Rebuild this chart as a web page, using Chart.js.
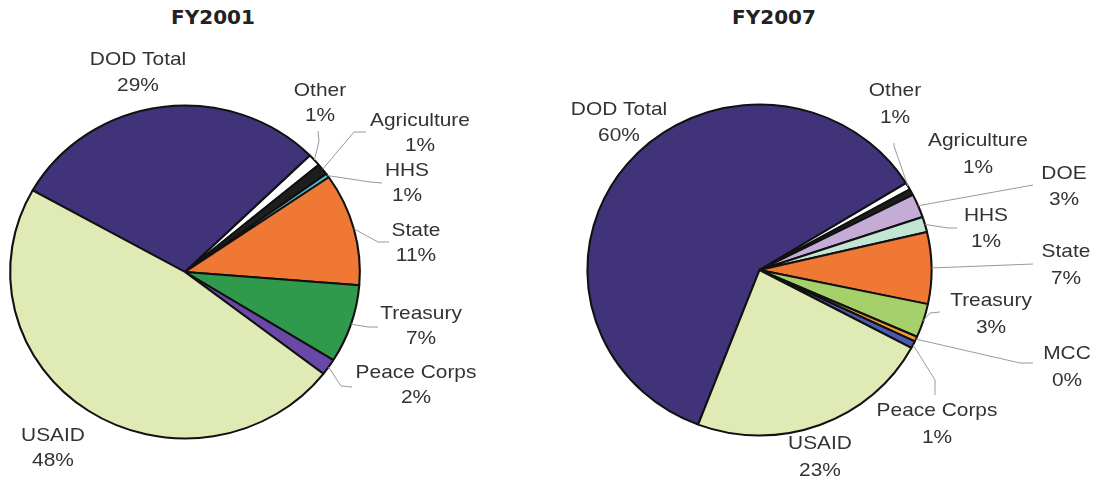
<!DOCTYPE html>
<html>
<head>
<meta charset="utf-8">
<script src="https://cdn.jsdelivr.net/npm/chart.js@4.4.1/dist/chart.umd.min.js"></script>
<style>
  html, body { margin: 0; padding: 0; background: #fff; }
  #wrap { position: relative; width: 1096px; height: 483px; overflow: hidden; }
  canvas { position: absolute; left: 0; top: 0; }
  .titulo {
    position: absolute; top: 5px; width: 200px; text-align: center;
    font: bold 20px "DejaVu Sans", sans-serif; color: #222;
  }
</style>
</head>
<body>
<div id="wrap">
  <div class="titulo" style="left:113px">FY2001</div>
  <div class="titulo" style="left:674px">FY2007</div>
  <canvas id="grafico2001" width="1096" height="483"></canvas>
  <canvas id="grafico2007" width="1096" height="483"></canvas>
</div>
<script>
// Datos FY2001 (porcentaje del total)
const categorias2001 = ['DOD Total', 'Other', 'Agriculture', 'HHS', 'State', 'Treasury', 'Peace Corps', 'USAID'];
const valores2001 = [29.5, 1.2, 1.1, 0.4, 10.9, 7.6, 1.6, 47.7];
const etiquetas2001 = ['29%', '1%', '1%', '1%', '11%', '7%', '2%', '48%'];

// Datos FY2007
const categorias2007 = ['DOD Total', 'Other', 'Agriculture', 'DOE', 'HHS', 'State', 'Treasury', 'MCC', 'Peace Corps', 'USAID'];
const valores2007 = [60.4, 0.7, 0.6, 2.3, 1.5, 7.0, 3.3, 0.5, 0.7, 23.0];
const etiquetas2007 = ['60%', '1%', '1%', '3%', '1%', '7%', '3%', '0%', '1%', '23%'];

const colores2001 = ['#41337a', '#ffffff', '#1e1e1e', '#4fc3d0', '#f07835', '#2f9a4b', '#6a48a8', '#e0eab4'];
const colores2007 = ['#41337a', '#ffffff', '#1e1e1e', '#c4acd6', '#c2e6d3', '#f07835', '#a5d06a', '#f39a2e', '#4a5cb0', '#e0eab4'];

// posicion de los textos y lineas guia (coordenadas de pagina)
const layout2001 = [
  { x: 138, y: 60, dy: 26 },
  { x: 320, y: 91, dy: 25, guia: [[319, 141], [318, 131]] },
  { x: 420, y: 121, dy: 25, guia: [[354, 132], [366, 132]] },
  { x: 407, y: 171, dy: 25, guia: [[370, 182], [382, 183]] },
  { x: 416, y: 231, dy: 25, guia: [[378, 242], [389, 242]] },
  { x: 421, y: 314, dy: 25, guia: [[368, 327], [378, 327]] },
  { x: 416, y: 373, dy: 25, guia: [[341, 386], [352, 387]] },
  { x: 53, y: 436, dy: 25 }
];
const layout2007 = [
  { x: 619, y: 110, dy: 26 },
  { x: 895, y: 91, dy: 27, guia: [[894, 146], [894, 143]] },
  { x: 978, y: 141, dy: 27 },
  { x: 1064, y: 174, dy: 26, guia: [[1033, 185], [1033, 185]] },
  { x: 986, y: 216, dy: 26, guia: [[948, 228], [957, 228]] },
  { x: 1066, y: 252, dy: 27, guia: [[1033, 264], [1033, 264]] },
  { x: 991, y: 301, dy: 27, guia: [[930, 313], [940, 312]] },
  { x: 1067, y: 354, dy: 27, guia: [[1020, 363], [1033, 363]] },
  { x: 937, y: 411, dy: 27, guia: [[935, 380], [935, 395]] },
  { x: 820, y: 444, dy: 27 }
];

// la torta original esta un poco estirada en horizontal
const pluginEstirar = {
  id: 'estirar',
  beforeDatasetsDraw(chart, args, opts) {
    const arco = chart.getDatasetMeta(0).data[0];
    const c = chart.ctx;
    c.save();
    c.translate(arco.x, arco.y);
    c.scale(opts.sx, 1);
    c.translate(-arco.x, -arco.y);
  },
  afterDatasetsDraw(chart) {
    chart.ctx.restore();
  }
};

const pluginEtiquetas = {
  id: 'etiquetas',
  afterDraw(chart, args, opts) {
    const c = chart.ctx;
    const meta = chart.getDatasetMeta(0);
    const sx = chart.options.plugins.estirar.sx;
    c.save();
    // lineas guia
    c.strokeStyle = '#9a9a9a';
    c.lineWidth = 1;
    opts.layout.forEach((l, i) => {
      if (!l.guia) return;
      const a = meta.data[i];
      const p = a.getProps(['x', 'y', 'startAngle', 'endAngle', 'outerRadius']);
      const medio = (p.startAngle + p.endAngle) / 2;
      const x0 = p.x + Math.cos(medio) * p.outerRadius * sx;
      const y0 = p.y + Math.sin(medio) * p.outerRadius;
      c.beginPath();
      c.moveTo(x0, y0);
      l.guia.forEach(q => c.lineTo(q[0], q[1]));
      c.stroke();
    });
    // textos
    c.fillStyle = '#333333';
    c.font = '19px "Liberation Sans", Arial, sans-serif';
    c.textAlign = 'center';
    c.textBaseline = 'middle';
    opts.layout.forEach((l, i) => {
      const lineas = [chart.data.labels[i], opts.pct[i]];
      lineas.forEach((t, k) => {
        c.save();
        c.translate(l.x, l.y + k * l.dy);
        c.scale(1.1, 1);
        c.fillText(t, 0, 0);
        c.restore();
      });
    });
    c.restore();
  }
};

function crearTorta(id, categorias, valores, colores, rotacion, padding, sx, layout, pct) {
  return new Chart(document.getElementById(id).getContext('2d'), {
    type: 'pie',
    data: {
      labels: categorias,
      datasets: [{
        data: valores,
        backgroundColor: colores,
        borderColor: '#111111',
        borderWidth: 2,
        hoverBorderWidth: 2,
        hoverOffset: 0,
        clip: false
      }]
    },
    options: {
      responsive: false,
      devicePixelRatio: 1,
      animation: false,
      rotation: rotacion,
      layout: { padding: padding },
      events: [],
      plugins: {
        legend: { display: false },
        tooltip: { enabled: false },
        estirar: { sx: sx },
        etiquetas: { layout: layout, pct: pct }
      }
    },
    plugins: [pluginEstirar, pluginEtiquetas]
  });
}

document.addEventListener('DOMContentLoaded', () => {
  crearTorta('grafico2001', categorias2001, valores2001, colores2001, 299.4,
    { left: 17.5, top: 104.5, right: 743.5, bottom: 43.5 }, 1.05, layout2001, etiquetas2001);
  crearTorta('grafico2007', categorias2007, valores2007, colores2007, 200.9,
    { left: 593, top: 103.5, right: 170, bottom: 46.5 }, 1.04, layout2007, etiquetas2007);
});
</script>
</body>
</html>
